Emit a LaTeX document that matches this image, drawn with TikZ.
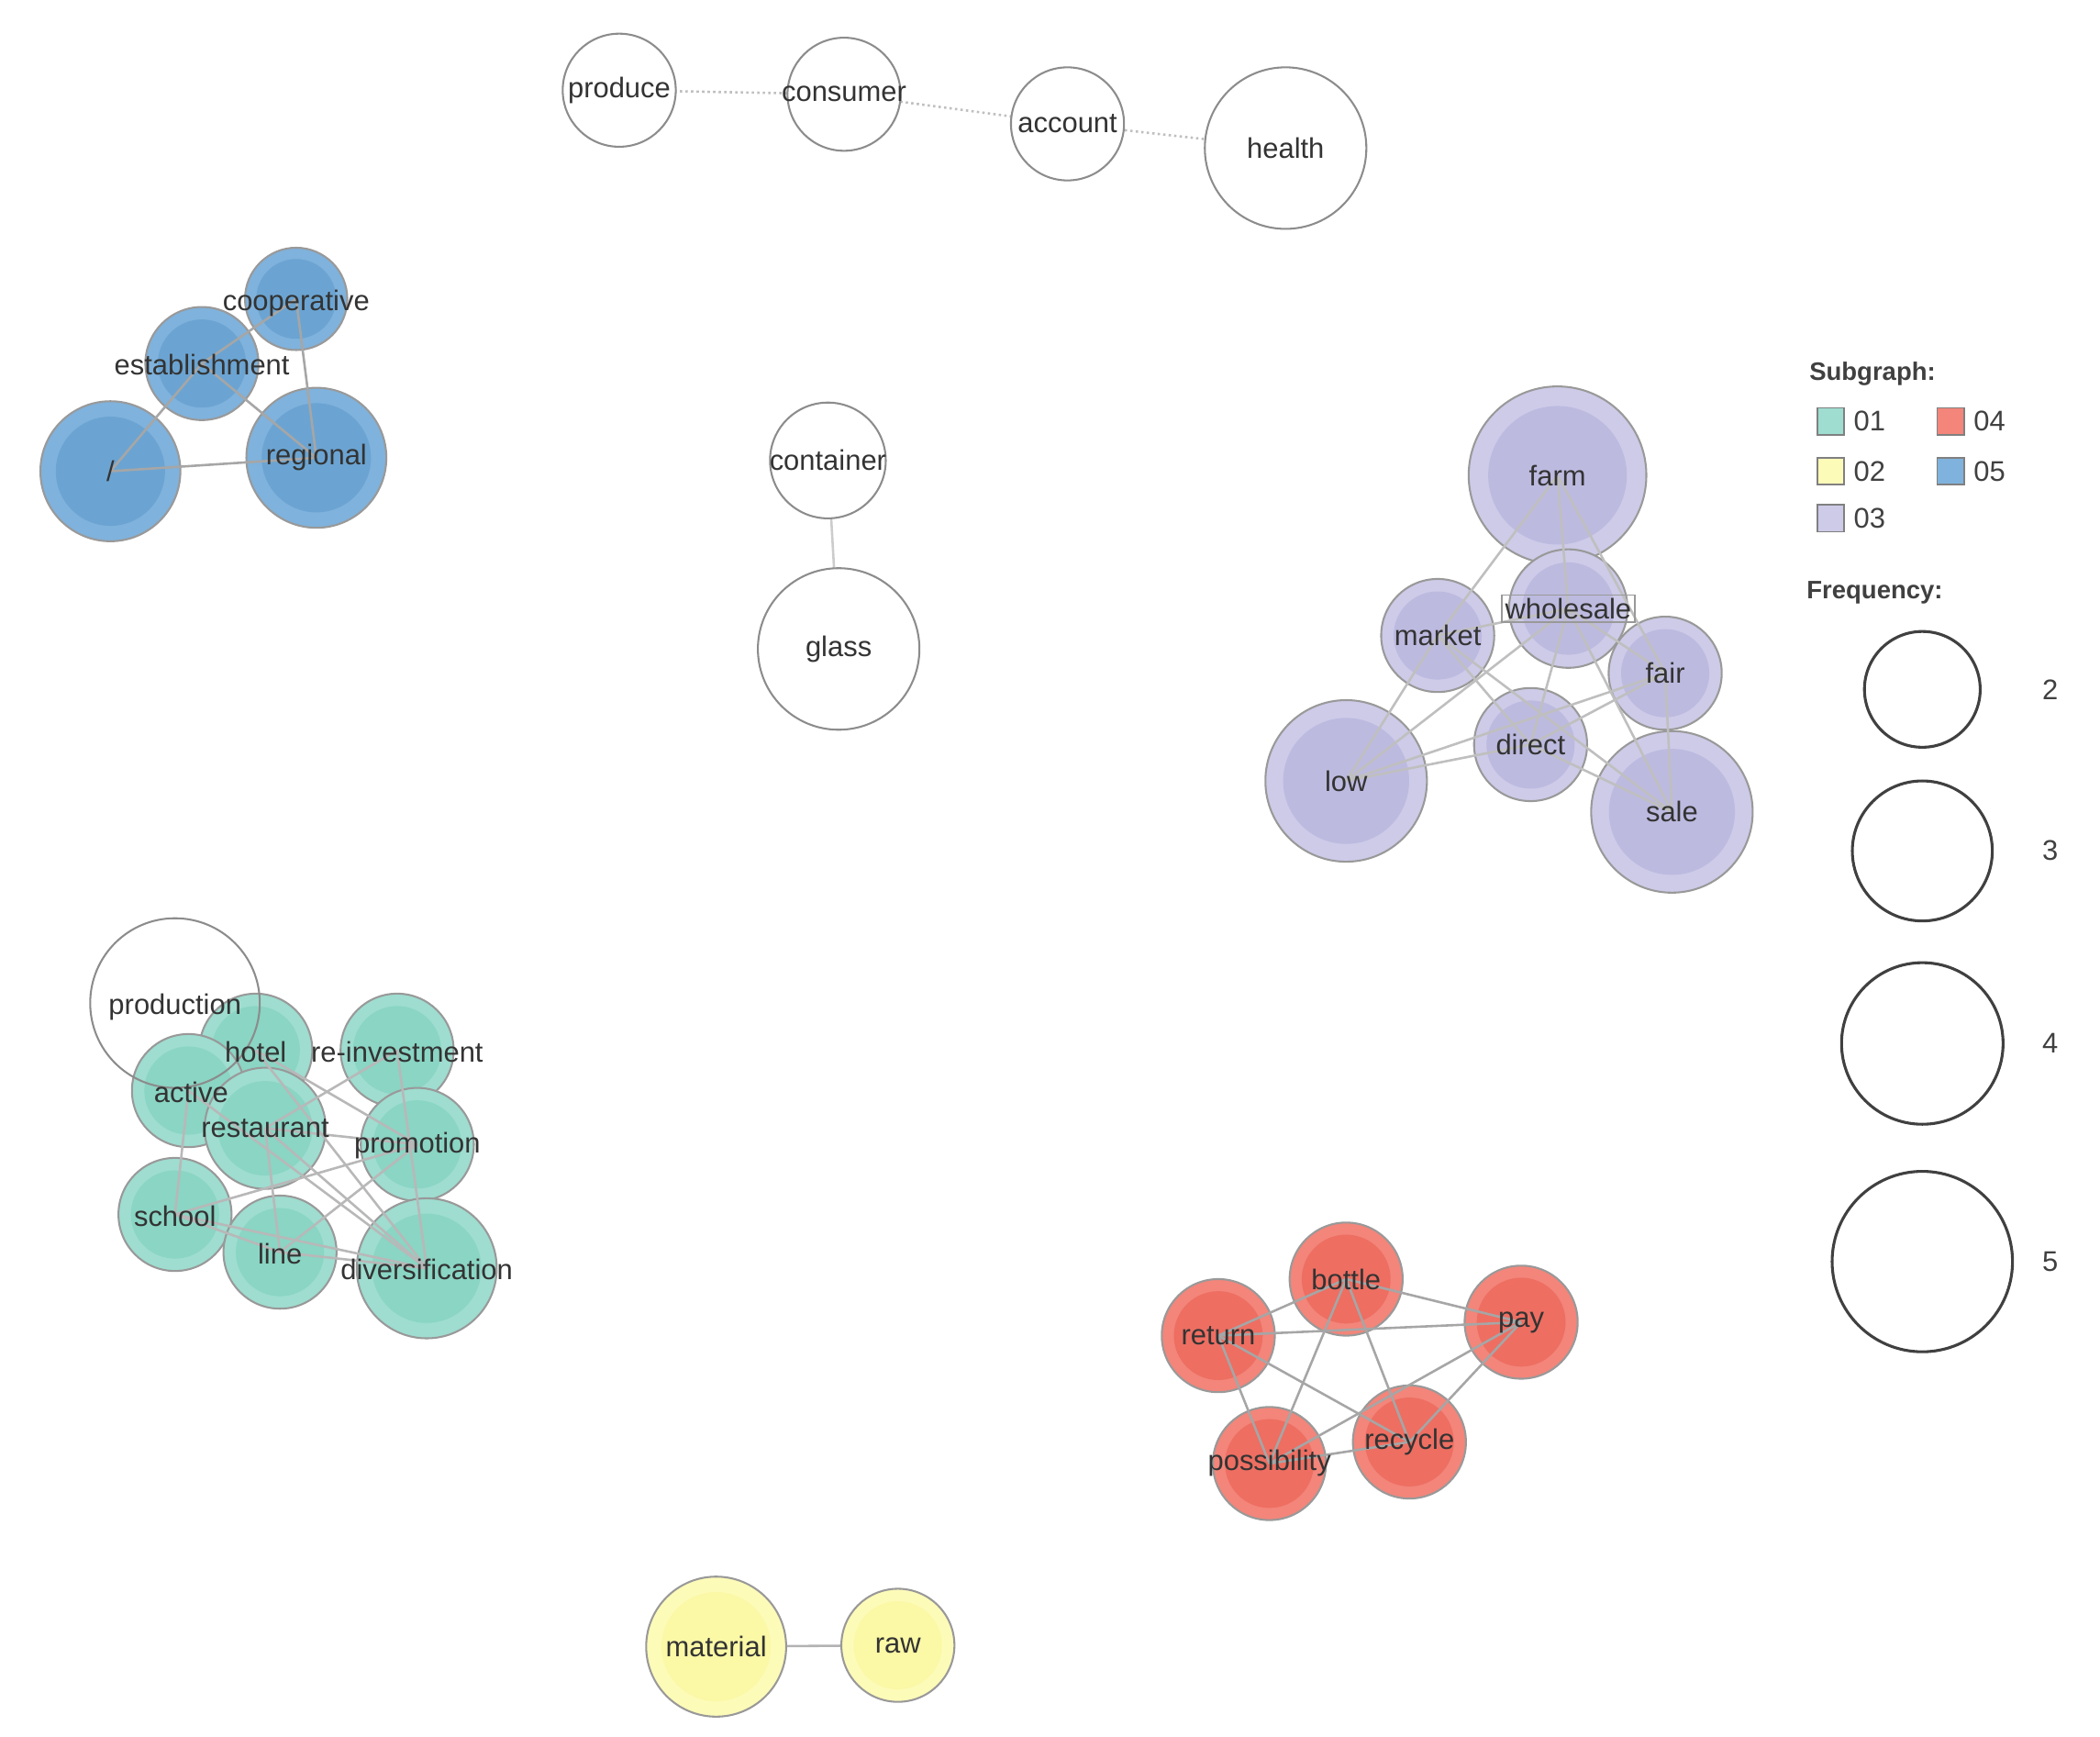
\documentclass[tikz,border=0pt]{standalone}
\usepackage{fontspec}
\setmainfont{Liberation Sans}
\begin{document}
\begin{tikzpicture}[x=0.03cm,y=-0.03cm,
  lbl/.style={font=\fontsize{18}{20}\selectfont,text=black!80},
  ed/.style={draw=black!35,line width=1.5pt},
  dot/.style={draw=black!25,line width=1.5pt,dotted},
  wn/.style={circle,draw=black!45,line width=1.2pt,fill=white,inner sep=0pt}]
\useasboundingbox (0,0) rectangle (1560,1290);
\definecolor{pu}{HTML}{CDCBE8}\definecolor{puD}{HTML}{BDBAE0}
\definecolor{bl}{HTML}{7FB2DC}\definecolor{blD}{HTML}{6BA4D2}
\definecolor{te}{HTML}{9EDDD0}\definecolor{teD}{HTML}{8AD5C4}
\definecolor{re}{HTML}{F3857A}\definecolor{reD}{HTML}{EE6E62}
\definecolor{ye}{HTML}{FDFBB8}\definecolor{yeD}{HTML}{FBF8A6}
% name, x, y, r, colour
\newcommand{\cn}[6]{%
  \node[circle,minimum size=#4*2*0.03cm,inner sep=0pt,draw=black!40,line width=1.2pt,fill=#5] (#1) at (#2,#3) {};
  \fill[#5D] (#2,#3) circle ({#4*0.78});
  \node[lbl] (#1-t) at (#2,#3) {#6};}
\newcommand{\wc}[5]{%
  \node[wn,minimum size=#4*2*0.03cm] (#1) at (#2,#3) {};
  \node[lbl] (#1-t) at (#2,#3) {#5};}

% edges first
\coordinate (pc) at (460,67);\coordinate (cc) at (627,70);\coordinate (ac) at (793,92);\coordinate (hc) at (955,110);
\draw[dot] (pc)--(cc)--(ac)--(hc);
\wc{produce}{460}{67}{42}{produce}
\wc{consumer}{627}{70}{42}{consumer}
\wc{account}{793}{92}{42}{account}
\wc{health}{955}{110}{60}{health}

% blue
\cn{coop}{220}{222}{38}{bl}{}
\cn{estab}{150}{270}{42}{bl}{}
\cn{sl}{82}{350}{52}{bl}{}
\cn{regional}{235}{340}{52}{bl}{}
\draw[ed] (coop.center)--(estab.center) (estab.center)--(sl.center) (estab.center)--(regional.center) (sl.center)--(regional.center) (coop.center)--(regional.center);
\node[lbl] at (220,225) {cooperative};
\node[lbl] at (150,271) {establishment};
\node[lbl] at (82,350) {/};
\node[lbl] at (235,340) {regional};

% container glass
\draw[ed,draw=black!20] (615,342)--(623,482);
\wc{container}{615}{342}{43}{container}
\wc{glass}{623}{482}{60}{glass}

% purple
\begin{scope}
\cn{farm}{1157}{353}{66}{pu}{}
\cn{low}{1000}{580}{60}{pu}{}
\cn{sale}{1242}{603}{60}{pu}{}
\cn{market}{1068}{472}{42}{pu}{}
\cn{fair}{1237}{500}{42}{pu}{}
\cn{direct}{1137}{553}{42}{pu}{}
\cn{wholesale}{1165}{452}{44}{pu}{}
\end{scope}
\foreach \a/\b in {farm/market,farm/wholesale,farm/fair,market/wholesale,market/direct,market/low,wholesale/fair,wholesale/direct,wholesale/low,fair/direct,fair/sale,fair/low,direct/low,direct/sale,wholesale/sale,market/sale}
  \draw[ed,draw=black!25] (\a.center)--(\b.center);
\node[lbl] at (1157,353) {farm};
\node[lbl] at (1000,580) {low};
\node[lbl] at (1242,603) {sale};
\node[lbl] at (1068,472) {market};
\node[lbl] at (1237,500) {fair};
\node[lbl] at (1137,553) {direct};
\node[lbl,draw=black!40,line width=1pt,inner sep=2pt] at (1165,452) {wholesale};

% teal
\foreach \n/\x/\y/\r in {hotel/190/780/42,reinv/295/780/42,active/140/810/42,restaurant/197/838/45,promotion/310/850/42,school/130/902/42,line/208/930/42,divers/317/942/52}
  {\node[circle,minimum size=\r*2*0.03cm,inner sep=0pt,draw=black!40,line width=1.2pt,fill=te] (\n) at (\x,\y) {};
   \fill[teD] (\x,\y) circle ({\r*0.78});}
\node[wn,minimum size=126*0.03cm,fill=none] (production) at (130,745) {};
\foreach \a/\b in {hotel/promotion,hotel/divers,reinv/restaurant,restaurant/promotion,restaurant/divers,restaurant/line,active/divers,school/promotion,line/promotion,school/divers,line/divers,active/school,reinv/divers,school/line}
  \draw[ed,draw=black!28] (\a.center)--(\b.center);
\node[lbl] at (130,748) {production};
\node[lbl] at (190,781) {hotel};
\node[lbl] at (295,781) {re-investment};
\node[lbl] at (142,811) {active};
\node[lbl] at (197,838) {restaurant};
\node[lbl] at (310,851) {promotion};
\node[lbl] at (130,903) {school};
\node[lbl] at (208,931) {line};
\node[lbl] at (317,943) {diversification};

% red
\foreach \n/\x/\y in {bottle/1000/950,pay/1130/982,return/905/992,recycle/1047/1071,possib/943/1087}
  {\node[circle,minimum size=84*0.03cm,inner sep=0pt,draw=black!40,line width=1.2pt,fill=re] (\n) at (\x,\y) {};
   \fill[reD] (\x,\y) circle (33);}
\foreach \a/\b in {bottle/pay,bottle/return,bottle/recycle,bottle/possib,return/pay,return/recycle,return/possib,pay/recycle,pay/possib,recycle/possib}
  \draw[ed,draw=black!35] (\a.center)--(\b.center);
\node[lbl] at (1000,950) {bottle};
\node[lbl] at (1130,982) {pay};
\node[lbl] at (905,992) {return};
\node[lbl] at (1047,1071) {recycle};
\node[lbl] at (943,1087) {possibility};

% yellow
\draw[ed,draw=black!30] (532,1223)--(667,1222);
\cn{material}{532}{1223}{52}{ye}{material}
\cn{raw}{667}{1222}{42}{ye}{raw}

% legend
\node[font=\bfseries\fontsize{16}{18}\selectfont,text=black!75,anchor=west] (subg) at (1340,278) {Subgraph:};
\foreach \n/\x/\y/\c/\t in {l1/1360/313/te/01,l4/1449/313/re/04,l2/1360/350/ye/02,l5/1449/350/bl/05,l3/1360/385/pu/03}
  {\node[draw=black!50,line width=1pt,fill=\c,minimum size=0.6cm,inner sep=0pt] (\n) at (\x,\y) {};
   \node[font=\fontsize{18}{20}\selectfont,text=black!75,anchor=west] at (\x+13,\y) {\t};}
\node[font=\bfseries\fontsize{16}{18}\selectfont,text=black!75,anchor=west] (freq) at (1338,440) {Frequency:};
\foreach \n/\y/\r/\t in {f2/512/43/2,f3/632/52/3,f4/775/60/4,f5/937/67/5}
  {\node[circle,draw=black!75,line width=1.8pt,minimum size=\r*2*0.03cm,inner sep=0pt] (\n) at (1428,\y) {};
   \node[font=\fontsize{18}{20}\selectfont,text=black!75] at (1523,\y) {\t};}
\end{tikzpicture}
\end{document}
